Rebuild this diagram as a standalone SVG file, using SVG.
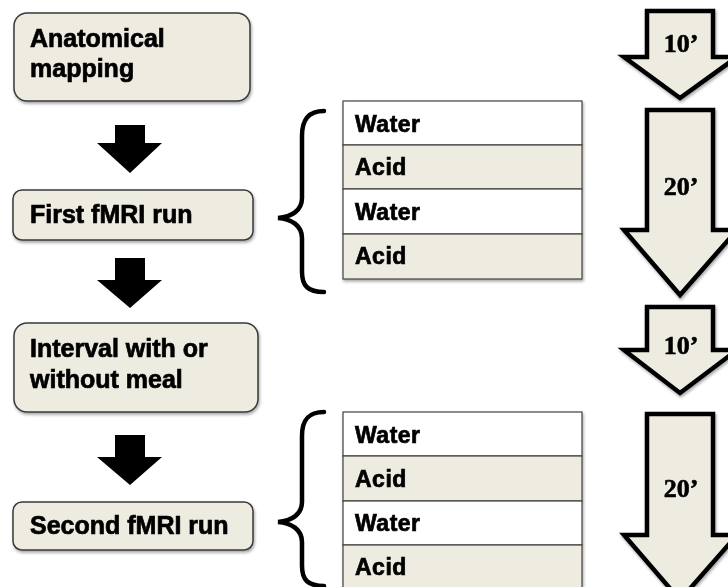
<svg xmlns="http://www.w3.org/2000/svg" width="728" height="587" viewBox="0 0 728 587">
<defs>
<style>
.box{fill:#EEEBE1;stroke:#3a3a3a;stroke-width:1.5}
.lbl{font-family:"Liberation Sans",Arial,sans-serif;font-weight:bold;font-size:25px;fill:#000;stroke:#000;stroke-width:0.7}
.cell{font-family:"Liberation Sans",Arial,sans-serif;font-weight:bold;font-size:23px;letter-spacing:0.5px;fill:#000;stroke:#000;stroke-width:0.7}
.row-w{fill:#FFFFFF;stroke:#404040;stroke-width:1.2}
.row-a{fill:#EEEBE1;stroke:#404040;stroke-width:1.2}
.blk{fill:#000}
.tarrow{fill:#EEEBE1;stroke:#000;stroke-width:4.5;stroke-linejoin:miter}
.tlbl{font-family:"Liberation Serif","Times New Roman",serif;font-weight:bold;font-size:26px;fill:#000;stroke:#000;stroke-width:0.6;text-anchor:middle}
.brace{fill:none;stroke:#000;stroke-width:4.5;stroke-linecap:round}
</style>
<filter id="sh" x="-10%" y="-10%" width="120%" height="130%">
<feDropShadow dx="1" dy="2" stdDeviation="1.5" flood-color="#000" flood-opacity="0.35"/>
</filter>
</defs>

<g id="node-anatomical" filter="url(#sh)">
<rect class="box" x="14" y="13" width="236" height="88" rx="13"/>
<text class="lbl" x="30" y="47">Anatomical</text>
<text class="lbl" x="30" y="77">mapping</text>
</g>

<g id="node-first-run" filter="url(#sh)">
<rect class="box" x="13" y="190" width="240" height="50" rx="9"/>
<text class="lbl" x="30" y="223">First fMRI run</text>
</g>

<g id="node-interval" filter="url(#sh)">
<rect class="box" x="14" y="323" width="244" height="89" rx="13"/>
<text class="lbl" x="30" y="357">Interval with or</text>
<text class="lbl" x="30" y="388">without meal</text>
</g>

<g id="node-second-run" filter="url(#sh)">
<rect class="box" x="13" y="502" width="240" height="48" rx="9"/>
<text class="lbl" x="30" y="534">Second fMRI run</text>
</g>

<g id="connectors">
<polygon class="blk" points="115,125 145,125 145,143 162,143 130,173 97,143 115,143"/>
<polygon class="blk" points="115,258 145,258 145,280 162,280 130,308 97,280 115,280"/>
<polygon class="blk" points="115,435 145,435 145,457 162,457 130,485 97,457 115,457"/>
<path class="brace" d="M324,111 C308,111 302,120 302,136 L302,198 C302,210 292,217 278,218 C292,219 302,226 302,238 L302,272 C302,286 308,292 324,292"/>
<path class="brace" d="M324,412 C308,412 302,420 302,436 L302,502 C302,514 292,521 278,522 C292,523 302,530 302,542 L302,566 C302,580 308,586 324,586"/>
</g>

<g id="table-1" filter="url(#sh)">
<rect class="row-w" x="343" y="101" width="239" height="44"/>
<rect class="row-a" x="343" y="145" width="239" height="44"/>
<rect class="row-w" x="343" y="189" width="239" height="45"/>
<rect class="row-a" x="343" y="234" width="239" height="45"/>
<text class="cell" x="355" y="132">Water</text>
<text class="cell" x="355" y="175">Acid</text>
<text class="cell" x="355" y="220">Water</text>
<text class="cell" x="355" y="264">Acid</text>
</g>

<g id="table-2" filter="url(#sh)">
<rect class="row-w" x="343" y="412" width="239" height="44"/>
<rect class="row-a" x="343" y="456" width="239" height="45"/>
<rect class="row-w" x="343" y="501" width="239" height="44"/>
<rect class="row-a" x="343" y="545" width="239" height="46"/>
<text class="cell" x="355" y="443">Water</text>
<text class="cell" x="355" y="487">Acid</text>
<text class="cell" x="355" y="531">Water</text>
<text class="cell" x="355" y="575">Acid</text>
</g>

<g id="time-10a" filter="url(#sh)">
<polygon class="tarrow" points="647,11 713,11 713,57 737,57 680,98 624,57 647,57"/>
<text class="tlbl" x="681" y="52">10’</text>
</g>
<g id="time-20a" filter="url(#sh)">
<polygon class="tarrow" points="647,110 713,110 713,230 737,230 680,295 624,230 647,230"/>
<text class="tlbl" x="681" y="195">20’</text>
</g>
<g id="time-10b" filter="url(#sh)">
<polygon class="tarrow" points="647,307 713,307 713,350 737,350 680,393 624,350 647,350"/>
<text class="tlbl" x="681" y="354">10’</text>
</g>
<g id="time-20b" filter="url(#sh)">
<polygon class="tarrow" points="647,414 713,414 713,535 737,535 680,600 624,535 647,535"/>
<text class="tlbl" x="681" y="497">20’</text>
</g>
</svg>
